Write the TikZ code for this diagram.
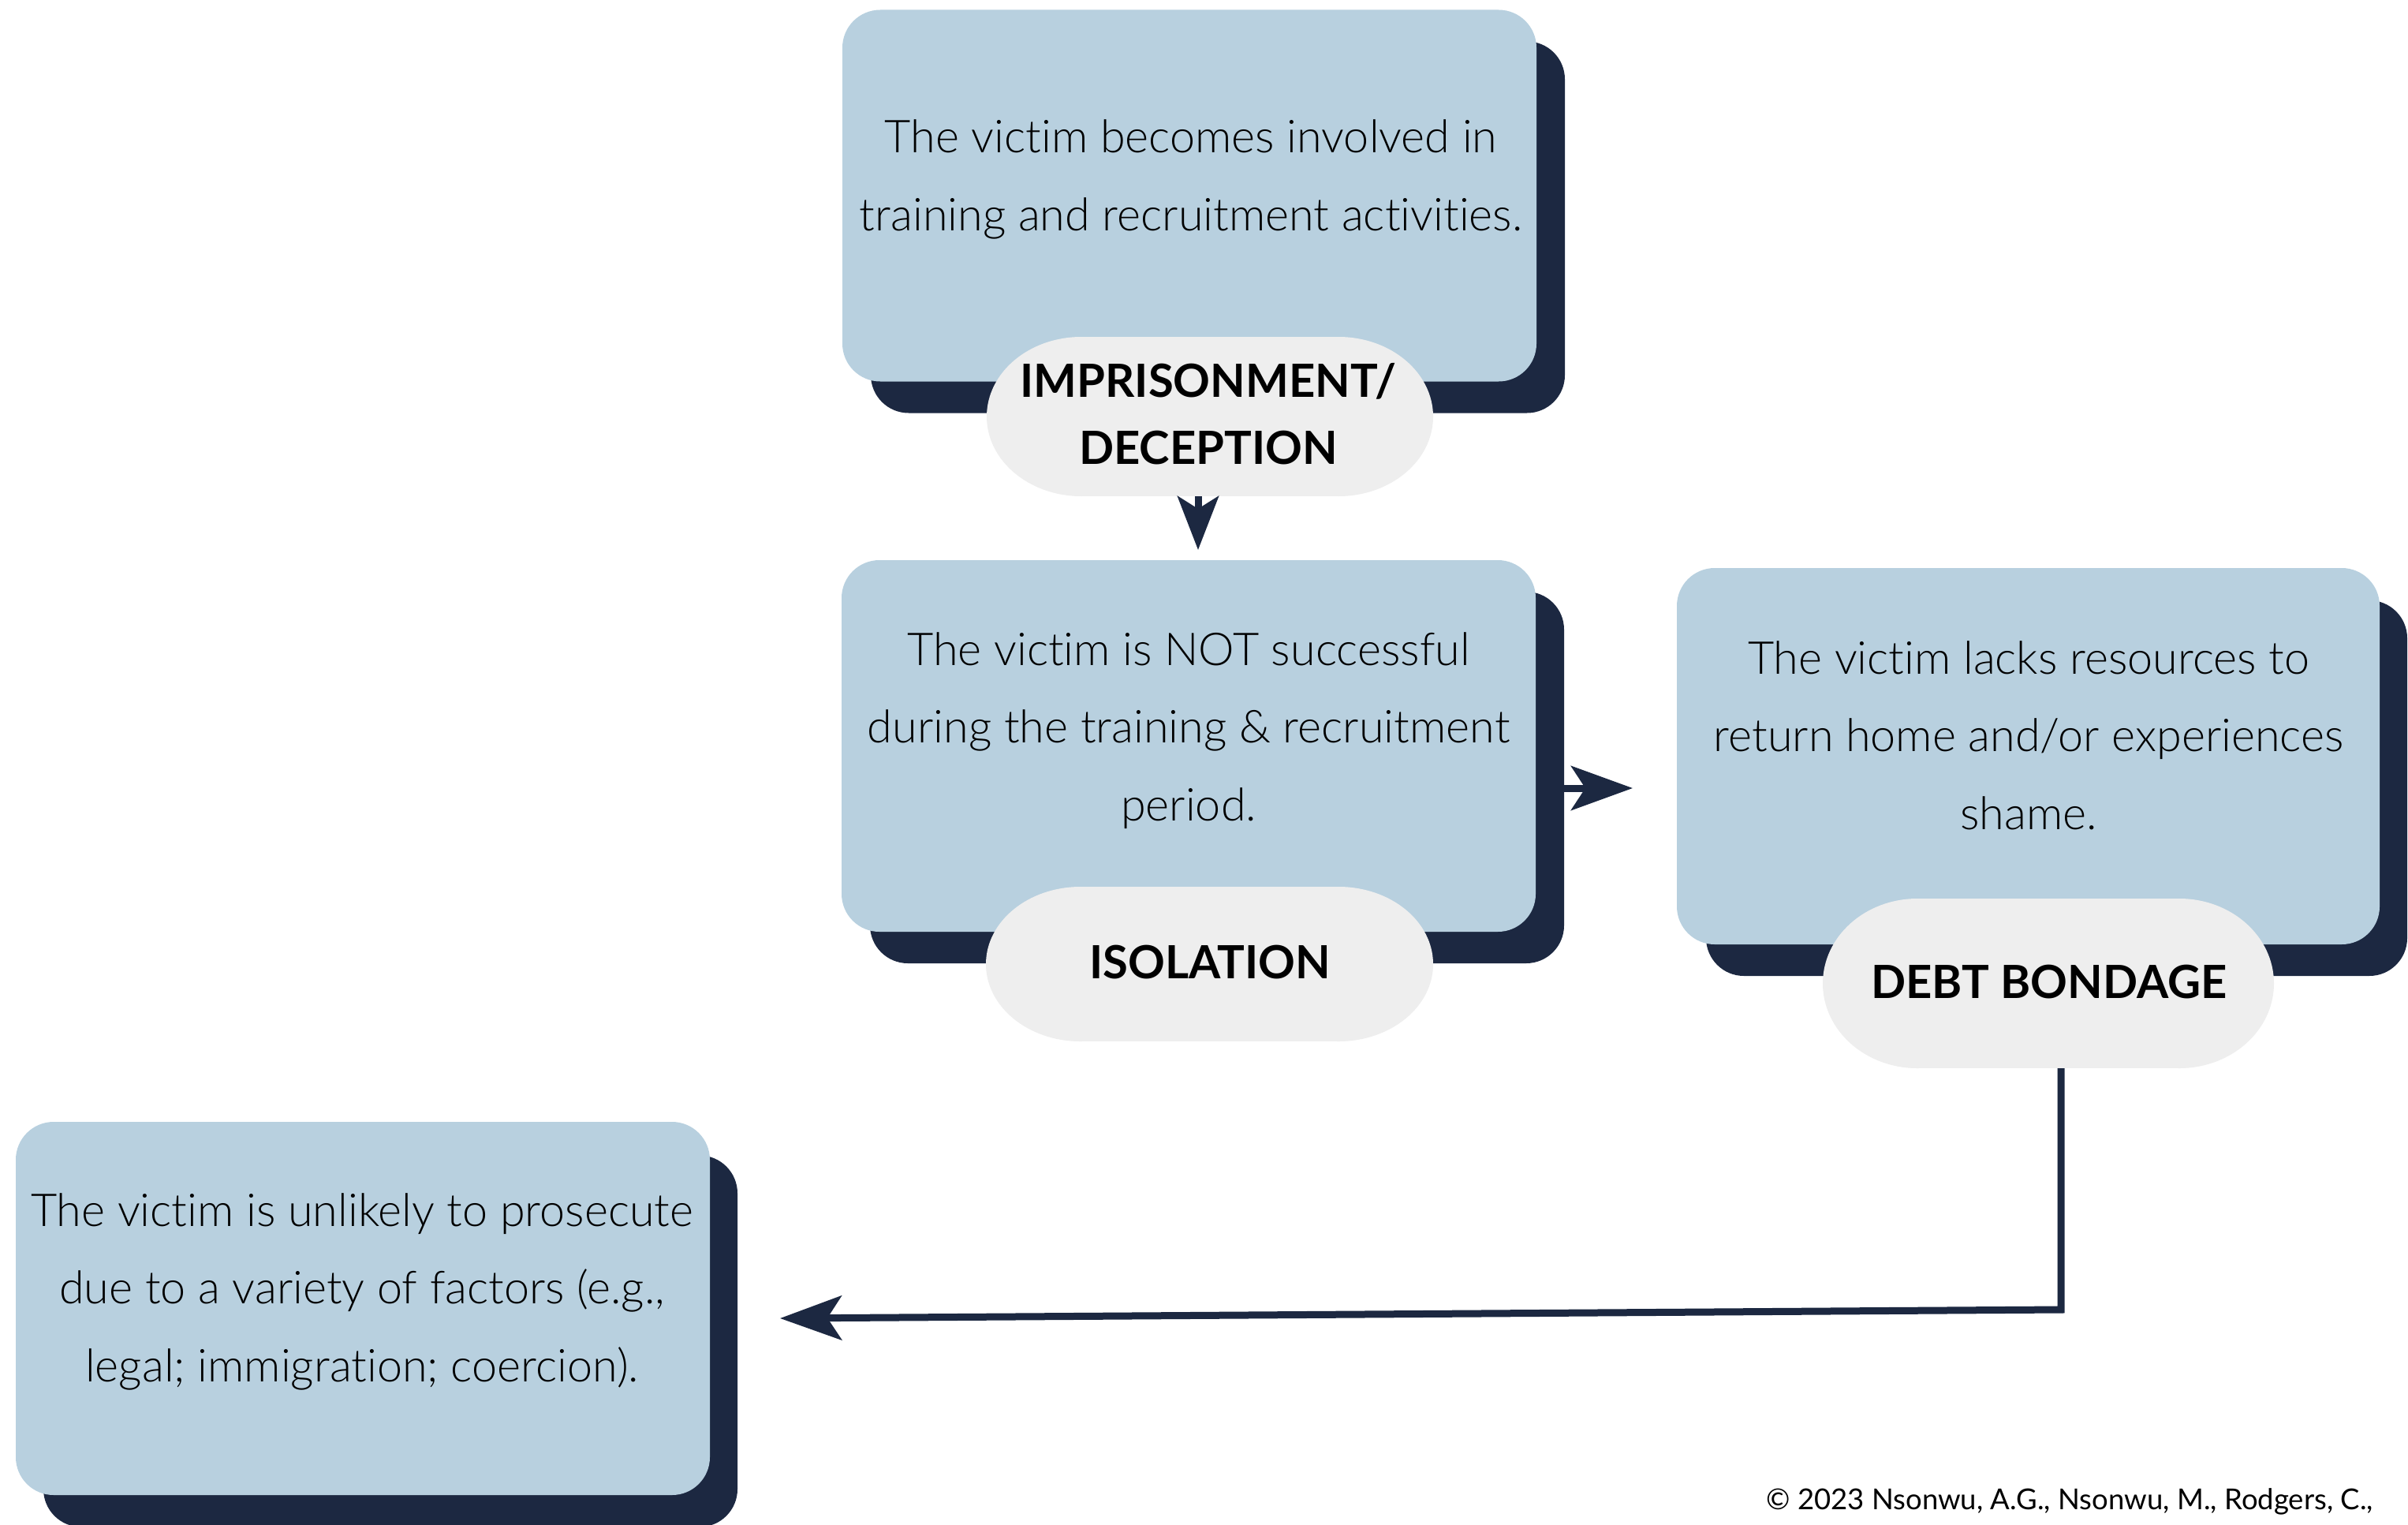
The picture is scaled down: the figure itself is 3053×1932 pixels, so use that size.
\documentclass[tikz,border=0pt]{standalone}
\usepackage{fontspec}
\setmainfont{Lato}[Ligatures=NoCommon]
\newfontfamily\latolight{Lato Light}[Ligatures=NoCommon]
\usetikzlibrary{arrows.meta,calc}
\definecolor{boxblue}{HTML}{B8D0DF}
\definecolor{navy}{HTML}{1C2841}
\definecolor{pillgray}{HTML}{EEEEEE}
\newcommand\pillat[4]{% cx, cy, half width, half height
  \fill[pillgray] (#1-#3+120,#2-#4) rectangle (#1+#3-120,#2+#4);
  \fill[pillgray] (#1-#3+120,#2) ellipse [x radius=120pt, y radius=#4pt];
  \fill[pillgray] (#1+#3-120,#2) ellipse [x radius=120pt, y radius=#4pt];}
\begin{document}
\begin{tikzpicture}[x=1pt,y=-1pt,
  box/.style={fill=boxblue, rounded corners=48pt, inner sep=0pt, minimum width=880pt, minimum height=471pt},
  shadowbox/.style={fill=navy, rounded corners=48pt, inner sep=0pt, minimum width=880pt, minimum height=471pt},
  pillnode/.style={inner sep=0pt},
  body/.style={font=\latolight\fontsize{57.5}{98.5}\selectfont, align=center, anchor=base, inner sep=0pt},
  tag/.style={font=\bfseries\fontsize{58}{85}\selectfont, align=center, anchor=base, inner sep=0pt},
  conn/.style={draw=navy, line width=9pt, line join=miter, -{Stealth[length=78pt,width=56pt,inset=18pt]}},
  conn1/.style={draw=navy, line width=9pt, -{Stealth[length=68pt,width=52pt,inset=16pt]}}]
\useasboundingbox[fill=white] (0,0) rectangle (3053,1932);

% shadows
\node[shadowbox] (s1) at (1544,288) {};
\node[shadowbox] (s2) at (1543,985.5) {};
\node[shadowbox, minimum width=889pt, minimum height=476pt] (s3) at (2607.5,999) {};
\node[shadowbox] (s4) at (495,1700) {};

% boxes
\node[box] (b1) at (1508,248) {};
\node[box] (b2) at (1507,945.5) {};
\node[box, minimum width=891pt, minimum height=477pt] (b3) at (2571.5,958.5) {};
\node[box, minimum width=880pt, minimum height=473pt] (b4) at (460,1658.5) {};

% pills
\pillat{1534}{528}{283}{101}
\pillat{1533.5}{1222}{283.5}{98}
\pillat{2597}{1246.5}{286}{107.5}
\node[pillnode, minimum width=566pt, minimum height=202pt] (p1) at (1534,528) {};
\node[pillnode, minimum width=567pt, minimum height=196pt] (p2) at (1533.5,1222) {};
\node[pillnode, minimum width=572pt, minimum height=215pt] (p3) at (2597,1246.5) {};

% texts (anchored at the baseline of the last line)
\node[body] (t1) at (1510,292) {The victim becomes involved in\\training and recruitment activities.};
\node[body] (t2) at (1507,1040) {The victim is NOT successful\\during the training \& recruitment\\period.};
\node[body] (t3) at (2572,1051) {The victim lacks resources to\\return home and/or experiences\\shame.};
\node[body] (t4) at (459,1751) {The victim is unlikely to prosecute\\due to a variety of factors (e.g.,\\legal; immigration; coercion).};

\node[tag] (l1) at (1532,588) {IMPRISONMENT/\\DECEPTION};
\node[tag] (l2) at (1534,1240) {ISOLATION};
\node[tag] (l3) at (2598,1265) {DEBT BONDAGE};

\node[font=\fontsize{36.5}{40}\selectfont, anchor=base east, inner sep=0pt] (copy) at (3009,1913) {© 2023 Nsonwu, A.G., Nsonwu, M., Rodgers, C.,};

% connectors
\coordinate (ah1) at (1519,697);
\coordinate (ah2) at (2070,999);
\coordinate (bend) at (2613,1660);
\coordinate (ah3) at (989,1671);
\draw[conn1] ($(p1.south)+(-15,0)$) -- (ah1);
\draw[conn] ($(s2.east)+(0,13.5)$) -- (ah2);
\draw[conn] ($(p3.south)+(16,0)$) -- (bend) -- (ah3);
\end{tikzpicture}
\end{document}
